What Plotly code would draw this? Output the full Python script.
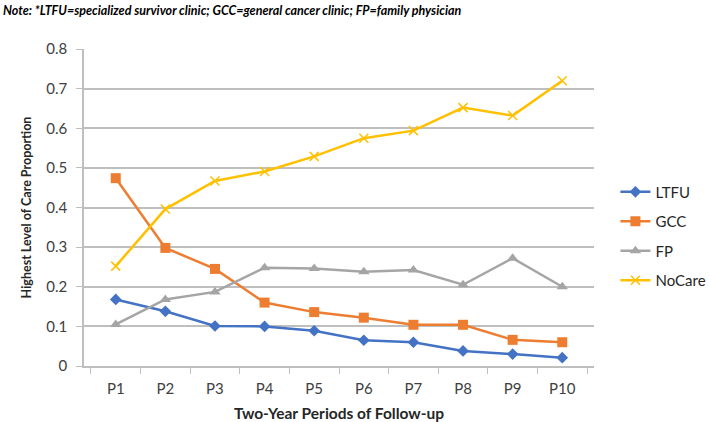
import plotly.graph_objects as go

# periods of follow-up
periods = ["P1", "P2", "P3", "P4", "P5", "P6", "P7", "P8", "P9", "P10"]

# highest level of care proportion, per series
ltfu = [0.168, 0.138, 0.101, 0.100, 0.089, 0.065, 0.060, 0.038, 0.030, 0.021]
gcc = [0.474, 0.298, 0.245, 0.160, 0.136, 0.122, 0.104, 0.104, 0.066, 0.060]
fp = [0.105, 0.168, 0.187, 0.248, 0.246, 0.238, 0.242, 0.205, 0.272, 0.200]
nocare = [0.252, 0.396, 0.467, 0.491, 0.529, 0.575, 0.594, 0.652, 0.632, 0.720]

series_names = ["LTFU", "GCC", "FP", "NoCare"]
series_vals = [ltfu, gcc, fp, nocare]

colors = ["#4472C4", "#ED7D31", "#A5A5A5", "#FFC000"]
markers = [
    dict(symbol="diamond", size=9),
    dict(symbol="square", size=10),
    dict(symbol="triangle-up", size=10),
    dict(symbol="x-thin-open", size=9, line=dict(width=1.5, color="#FFC000")),
]

fig = go.Figure()

for i in range(len(series_names)):
    fig.add_trace(go.Scatter(
        x=periods,
        y=series_vals[i],
        mode="lines+markers",
        name=series_names[i],
        legendgroup=series_names[i],
        line=dict(color=colors[i], width=2.5),
        marker=dict(color=colors[i], **markers[i]),
    ))

font_family = "Lato, sans-serif"

fig.update_layout(
    width=709,
    height=422,
    margin=dict(l=84, r=115, t=49, b=56, autoexpand=False),
    paper_bgcolor="white",
    plot_bgcolor="white",
    font=dict(family=font_family, size=15, color="#404040"),
    showlegend=True,
    legend=dict(
        x=1.042, y=0.41, xanchor="left", yanchor="middle",
        font=dict(size=15, color="#262626"),
        tracegroupgap=7,
        itemwidth=30,
    ),
    annotations=[dict(
        text="<b><i>Note: *LTFU=specialized survivor clinic; GCC=general cancer clinic; FP=family physician</i></b>",
        xref="paper", yref="paper", x=-0.163, y=1.123, xanchor="left", yanchor="middle",
        showarrow=False, font=dict(size=12.5, color="black"),
    )],
)

fig.update_xaxes(
    title=dict(text="<b>Two-Year Periods of Follow-up</b>", font=dict(size=15.5, color="#262626"), standoff=16),
    showline=True, linecolor="#BFBFBF", linewidth=1.5,
    ticks="outside", tickson="boundaries", ticklen=6, tickcolor="#BFBFBF",
    ticklabelstandoff=8,
    showgrid=False, automargin=False,
    tickfont=dict(size=15, color="#404040"),
)

fig.update_yaxes(
    title=dict(text="<b>Highest Level of Care Proportion</b>", font=dict(size=12.5, color="#262626"), standoff=12),
    range=[0, 0.8], dtick=0.1, tickformat=".1~f",
    showline=True, linecolor="#BFBFBF", linewidth=1.5,
    ticks="outside", ticklen=6, tickcolor="#BFBFBF",
    ticklabelstandoff=6,
    showgrid=True, gridcolor="#BFBFBF", gridwidth=1.5,
    zeroline=False, automargin=False,
    tickfont=dict(size=15, color="#404040"),
)

# drop the default page margin so the figure sits at the window's corner
fig.write_html("out.html", config={"displayModeBar": False},
               post_script="document.body.style.margin='0';")
